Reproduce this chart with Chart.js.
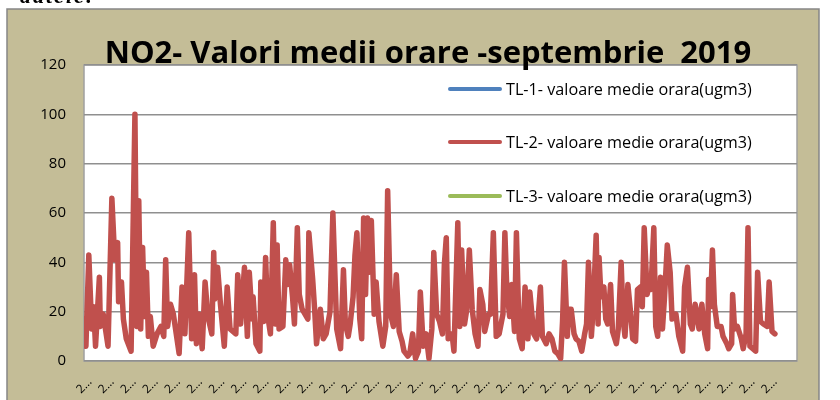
<!DOCTYPE html>
<html>
<head>
<meta charset="utf-8">
<script src="https://cdn.jsdelivr.net/npm/chart.js@4/dist/chart.umd.min.js"></script>
<style>
  html, body { margin: 0; padding: 0; background: #fff; }
  #wrap { position: relative; width: 840px; height: 400px; overflow: hidden; }
  #note { position: absolute; z-index: 2; left: 20px; top: -17px; font: bold italic 22px "Liberation Serif", serif; letter-spacing: 2px; color: #000; }
  #chart { position: absolute; left: 0; top: 0; z-index: 1; }
</style>
</head>
<body>
<div id="wrap">
  <div id="note">datele:</div>
  <canvas id="chart" width="840" height="400"></canvas>
</div>
<script>
// ── data (hour of the month, NO2 hourly mean) ──
const titleText = 'NO2- Valori medii orare -septembrie  2019';
const seriesNames = [
  'TL-1- valoare medie orara(ugm3)',
  'TL-2- valoare medie orara(ugm3)',
  'TL-3- valoare medie orara(ugm3)'
];
const seriesColors = ['#4F81BD', '#C0504D', '#9BBB59'];
const xTickLabel = '2…';
const yTicks = [0, 20, 40, 60, 80, 100, 120];

const hours = [
  0, 2, 5, 8, 10, 12, 16, 17, 20, 25, 29, 32, 35, 36, 39, 41, 44, 49, 53, 55,
  57, 59, 61, 63, 65, 67, 69, 72, 76, 80, 83, 85, 87, 90, 93, 99, 102, 105, 109, 112,
  115, 117, 120, 123, 126, 129, 133, 135, 136, 139, 142, 146, 149, 152, 155, 158, 160, 163, 167, 170,
  172, 175, 176, 179, 183, 184, 187, 189, 191, 194, 197, 199, 201, 203, 207, 210, 212, 214, 217, 219,
  222, 224, 227, 230, 233, 234, 238, 240, 242, 246, 249, 252, 256, 259, 263, 267, 270, 272, 275, 277,
  280, 282, 284, 287, 289, 291, 293, 295, 297, 299, 302, 304, 307, 311, 314, 316, 319, 322, 325, 328,
  331, 333, 337, 339, 342, 345, 348, 350, 353, 356, 359, 362, 364, 367, 370, 373, 375, 377, 379, 383,
  385, 389, 391, 393, 396, 398, 401, 404, 407, 410, 412, 415, 417, 421, 423, 426, 429, 432, 436, 438,
  440, 443, 445, 448, 450, 453, 456, 459, 462, 464, 468, 471, 475, 477, 481, 484, 487, 490, 493, 496,
  498, 500, 503, 504, 507, 510, 512, 515, 518, 521, 523, 525, 528, 530, 533, 535, 536, 538, 541, 543,
  545, 548, 550, 554, 556, 559, 561, 563, 566, 569, 571, 574, 576, 579, 581, 583, 586, 588, 590, 593,
  595, 597, 600, 602, 604, 607, 610, 612, 616, 619, 623, 625, 628, 631, 633, 636, 638, 640, 643, 646,
  649, 650, 652, 654, 656, 659, 663, 665, 669, 671, 674, 675, 677, 680, 684, 686, 689, 691, 693, 696,
  699, 701, 704, 707, 711, 713, 716, 719
];
const tl2Values = [
  17, 6, 43, 13, 22, 6, 34, 14, 19, 6, 66, 41, 48, 24, 32, 17, 9, 4, 100, 14,
  65, 13, 46, 18, 36, 10, 18, 6, 11, 14, 10, 41, 14, 23, 19, 3, 30, 11, 52, 9,
  35, 7, 19, 5, 32, 18, 11, 44, 25, 38, 23, 6, 30, 13, 12, 11, 35, 15, 38, 10,
  36, 17, 26, 7, 4, 32, 16, 42, 19, 11, 56, 15, 47, 13, 14, 41, 31, 39, 26, 15,
  54, 27, 21, 19, 17, 52, 33, 21, 7, 21, 9, 11, 20, 60, 13, 5, 37, 15, 10, 15,
  26, 43, 52, 17, 9, 58, 27, 58, 36, 57, 19, 32, 16, 6, 14, 69, 19, 14, 35, 12,
  8, 4, 2, 3, 11, 1, 4, 28, 6, 11, 1, 13, 44, 19, 16, 11, 39, 50, 9, 11,
  4, 56, 14, 45, 15, 20, 45, 21, 11, 6, 29, 23, 12, 19, 19, 52, 10, 11, 19, 52,
  29, 18, 31, 12, 52, 9, 5, 30, 9, 28, 11, 9, 30, 10, 7, 11, 9, 4, 3, 1,
  16, 40, 10, 21, 21, 11, 9, 8, 4, 11, 15, 40, 10, 22, 51, 15, 42, 26, 30, 17,
  15, 31, 12, 7, 13, 40, 17, 10, 31, 19, 9, 8, 29, 30, 22, 54, 27, 31, 29, 54,
  14, 10, 34, 13, 25, 47, 36, 17, 19, 10, 4, 30, 38, 15, 13, 23, 19, 13, 23, 11,
  5, 33, 22, 45, 23, 14, 14, 10, 7, 5, 7, 27, 13, 14, 9, 5, 11, 54, 6, 5,
  4, 36, 16, 15, 14, 32, 12, 11
];
const tl1Values = [];
const tl3Values = [];

const xMax = 742;        // categories on the axis
const xTickStep = 23;    // label every 23rd category
const xLastTick = 713;

const FONT = '"Open Sans", Lato, sans-serif';
Chart.defaults.font.family = FONT;
Chart.defaults.color = '#000';

const toPoints = (xs, ys) => ys.map((v, i) => ({ x: xs[i], y: v }));

/* ── frame, plot background, title and legend ── */
const framePlugin = {
  id: 'frame',
  beforeDraw(chart) {
    const { ctx, chartArea: a } = chart;
    ctx.save();
    ctx.fillStyle = '#fff';
    ctx.fillRect(0, 0, chart.width, chart.height);
    ctx.fillStyle = '#C4BD97';
    ctx.fillRect(7, 9, 812, 400);
    ctx.strokeStyle = '#868686';
    ctx.lineWidth = 1.5;
    ctx.strokeRect(7, 9, 812, 400);
    ctx.fillStyle = '#fff';
    ctx.fillRect(a.left, a.top, a.right - a.left, a.bottom - a.top);
    ctx.strokeStyle = '#a0a0a0';
    ctx.lineWidth = 1.5;
    ctx.strokeRect(a.left, a.top, a.right - a.left, a.bottom - a.top);
    ctx.restore();
  },
  afterDraw(chart) {
    const { ctx } = chart;
    ctx.save();
    // title sits over the top of the plot
    ctx.fillStyle = '#000';
    ctx.font = 'bold 31px ' + FONT;
    ctx.textAlign = 'center';
    ctx.textBaseline = 'alphabetic';
    ctx.fillText(titleText, 428, 63);
    // legend inside the plot area
    const rows = [89, 142, 196];
    ctx.font = '16.2px ' + FONT;
    ctx.textAlign = 'left';
    ctx.textBaseline = 'middle';
    chart.data.datasets.forEach((ds, i) => {
      ctx.strokeStyle = ds.borderColor;
      ctx.lineWidth = 4;
      ctx.lineCap = 'round';
      ctx.beginPath();
      ctx.moveTo(450, rows[i]);
      ctx.lineTo(500, rows[i]);
      ctx.stroke();
      ctx.fillStyle = '#000';
      ctx.fillText(ds.label, 506, rows[i] + 1);
    });
    ctx.restore();
  }
};

new Chart(document.getElementById('chart'), {
  type: 'line',
  data: {
    datasets: [
      { label: seriesNames[0], data: toPoints(hours, tl1Values), borderColor: seriesColors[0] },
      { label: seriesNames[1], data: toPoints(hours, tl2Values), borderColor: seriesColors[1] },
      { label: seriesNames[2], data: toPoints(hours, tl3Values), borderColor: seriesColors[2] }
    ].map(ds => Object.assign(ds, {
      borderWidth: 5.5, pointRadius: 0, tension: 0, fill: false,
      borderJoinStyle: 'round', borderCapStyle: 'round'
    }))
  },
  options: {
    responsive: false,
    animation: false,
    layout: { padding: { left: 7, top: 65, right: 43, bottom: 0 } },
    plugins: {
      legend: { display: false },
      title: { display: false },
      tooltip: { enabled: false }
    },
    scales: {
      x: {
        type: 'linear',
        min: 0,
        max: xMax,
        afterFit: s => { s.height = 39; },
        afterBuildTicks: s => {
          s.ticks = [];
          for (let h = 0; h <= xLastTick; h += xTickStep) s.ticks.push({ value: h });
        },
        grid: { display: false, drawTicks: false },
        border: { display: false },
        ticks: {
          autoSkip: false,
          minRotation: 45,
          maxRotation: 45,
          padding: 14,
          labelOffset: 6,
          font: { size: 12 },
          callback: () => xTickLabel
        }
      },
      y: {
        min: 0,
        max: 120,
        afterFit: s => { s.width = 77; },
        afterBuildTicks: s => { s.ticks = yTicks.map(v => ({ value: v })); },
        grid: { color: '#8f8f8f', lineWidth: 1.5, drawTicks: false },
        border: { display: false },
        ticks: { padding: 18, font: { size: 15 } }
      }
    }
  },
  plugins: [framePlugin]
});
</script>
</body>
</html>
